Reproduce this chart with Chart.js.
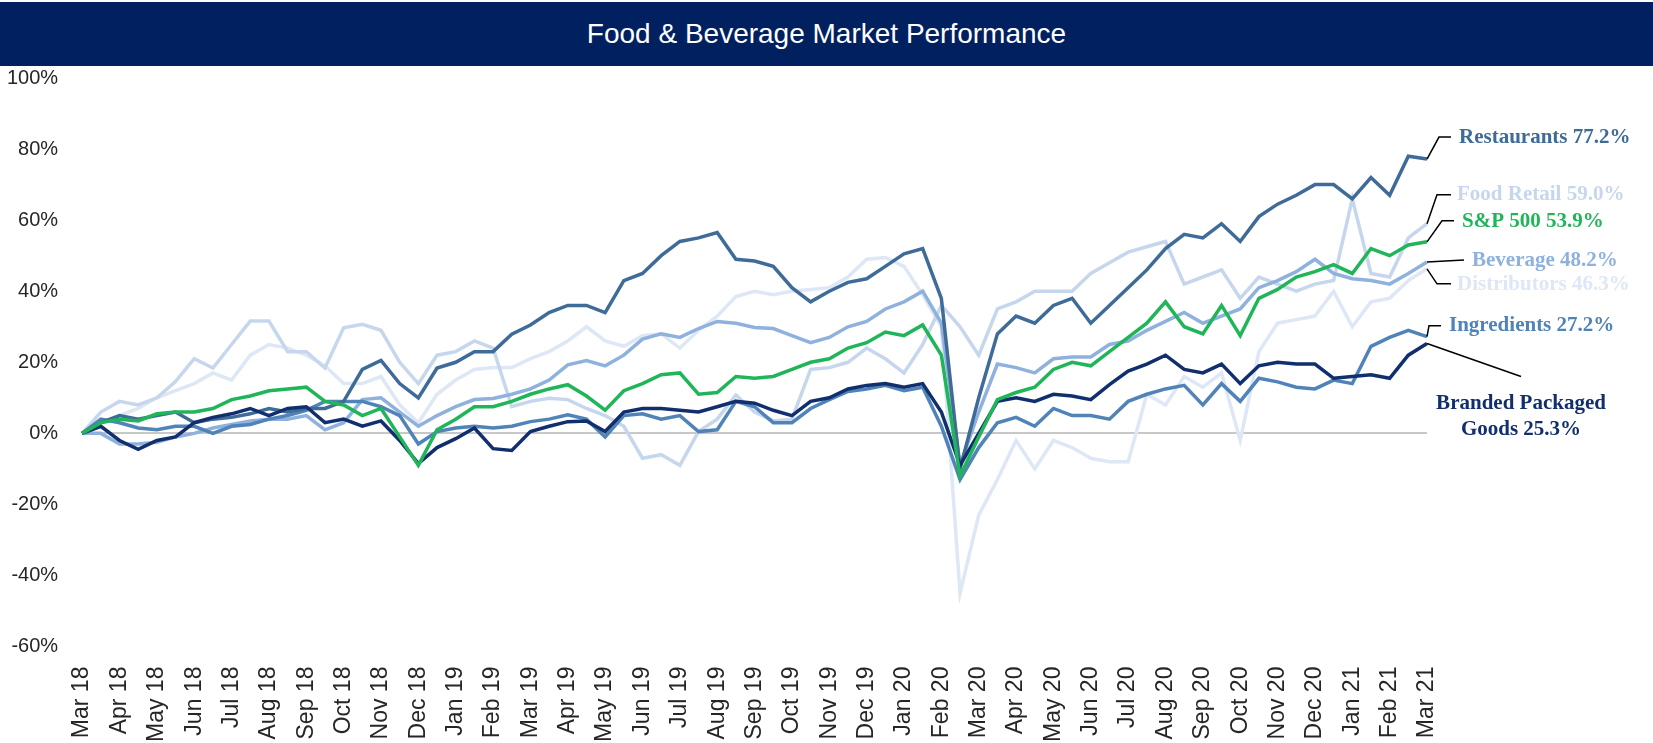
<!DOCTYPE html>
<html>
<head>
<meta charset="utf-8">
<script src="https://cdn.jsdelivr.net/npm/chart.js@4.4.1/dist/chart.umd.min.js"></script>
<style>
    body { margin: 0; background: #fff; }
    #head {
        margin-top: 2px;
        height: 64px;
        background: #002060;
        color: #fff;
        text-align: center;
        font: 28px "Liberation Sans", Arial, sans-serif;
        line-height: 64px;
    }
    #wrap { position: relative; width: 1653px; height: 677px; }
</style>
</head>
<body>
<div id="head">Food &amp; Beverage Market Performance</div>
<div id="wrap"><canvas id="perf"></canvas></div>
<script>
    // month ticks; each month gets one extra mid-month point
    const months = ['Mar 18', 'Apr 18', 'May 18', 'Jun 18', 'Jul 18', 'Aug 18', 'Sep 18', 'Oct 18',
        'Nov 18', 'Dec 18', 'Jan 19', 'Feb 19', 'Mar 19', 'Apr 19', 'May 19', 'Jun 19', 'Jul 19',
        'Aug 19', 'Sep 19', 'Oct 19', 'Nov 19', 'Dec 19', 'Jan 20', 'Feb 20', 'Mar 20', 'Apr 20',
        'May 20', 'Jun 20', 'Jul 20', 'Aug 20', 'Sep 20', 'Oct 20', 'Nov 20', 'Dec 20', 'Jan 21',
        'Feb 21', 'Mar 21'];

    const yTicks = [-60, -40, -20, 0, 20, 40, 60, 80, 100];

    // cumulative return, %
    const restaurants = [0, 3, 5, 4, 5, 6, 3, 4, 4.5, 5.5, 7, 6,
        7, 7, 9, 18, 20.5, 14, 10, 18.4, 20, 23, 23, 27.9,
        30.5, 34, 36, 36, 34, 43, 45, 50, 54, 55, 56.5, 49,
        48.5, 47, 41, 37, 40, 42.5, 43.5, 47, 50.5, 52, 38, -10,
        10, 28, 33, 31, 36, 38, 31, 36, 41, 46, 52, 56,
        55, 59, 54, 61, 64.5, 67, 70, 70, 66, 72, 67, 78, 77.2];

    const foodRetail = [0, 6, 9, 8, 10, 14.6, 21, 18.4, 25, 31.6, 31.6, 23,
        23, 18.4, 29.7, 30.7, 29, 20, 14, 22, 23, 26, 24, 7.5,
        9, 9.9, 9.5, 7, 5, 2, -7, -6, -9, 0.5, 4, 10.8,
        6, 3.5, 4, 18, 18.5, 20, 24, 21, 17, 25, 36, 30,
        22, 35, 37, 40, 40, 40, 45, 48, 51, 52.5, 54, 42,
        44, 46, 38, 44, 42, 40, 42, 43, 66, 45, 44, 55, 59];

    const sp500 = [0, 3, 4, 3.5, 5.5, 6, 6, 7, 9.5, 10.5, 12, 12.5,
        13, 9, 8, 5, 7, -1, -9, 1, 4, 7.5, 7.5, 9,
        11, 12.5, 13.7, 10.5, 6.5, 12, 14, 16.5, 17, 11, 11.5, 16,
        15.5, 16, 18, 20, 21, 24, 25.5, 28.5, 27.5, 30.5, 22, -12,
        -1, 9.5, 11.5, 13, 18, 20, 19, 23, 27, 31, 37, 30,
        28, 36, 27.5, 38, 40.5, 44, 45.5, 47.5, 45, 52, 50, 53, 53.9];

    const beverage = [0, 0, -3, -3, -2.5, -1, 0, 1.5, 2.5, 3.5, 4, 4,
        5, 1, 3, 9.5, 10, 6, 2, 5, 7.5, 9.5, 9.8, 11,
        12.5, 15, 19.3, 20.5, 19, 22, 26.5, 28, 27, 29.5, 31.5, 31,
        29.8, 29.5, 27.5, 25.5, 27, 30, 31.5, 35, 37, 40, 31, -9,
        6, 19.5, 18.5, 17, 21, 21.5, 21.5, 25, 26, 29, 31.5, 34,
        31, 33, 35, 41, 43, 45.5, 49, 45, 43.5, 43, 42, 45, 48.2];

    const distributors = [0, 3, 5, 7, 10, 12, 14, 17, 15, 22, 25, 24,
        22, 19, 14, 14, 16, 8, 3, 11, 15, 18, 18.5, 18.5,
        21, 23, 26, 30, 26, 24.5, 27.5, 28, 24, 29, 33, 38.5,
        40, 39, 40, 40.5, 41, 44, 49, 49.5, 47, 39, 30, -45,
        -23, -13, -2, -10, -2, -4, -7, -8, -8, 11, 8, 16,
        13, 17, -2, 23, 31, 32, 33, 40, 30, 37, 38, 43, 46.3];

    const ingredients = [0, 4, 3, 1.5, 1, 2, 2, 0, 2, 2.5, 4, 5,
        6.5, 9, 9, 9, 7.5, 5, -3, 0.5, 1.5, 2, 1.5, 2,
        3.3, 4, 5.2, 4, -1, 5, 5.5, 4, 5, 0.5, 1, 9,
        7.5, 3, 3, 7, 9.5, 11.8, 12.5, 13.5, 12, 13, 2, -13,
        -4, 3, 4.5, 2, 7, 5, 5, 4, 9, 11, 12.5, 13.5,
        8, 14, 9, 15.5, 14.5, 13, 12.5, 15, 14, 24.5, 27, 29, 27.2];

    const brandedGoods = [0, 2, -2, -4.5, -2, -1, 3, 4.5, 5.5, 7, 5, 7,
        7.5, 3, 4, 2, 3.5, -2, -8.5, -4, -1.5, 1.5, -4.3, -4.8,
        0.5, 2, 3.3, 3.5, 0.5, 6, 7, 7, 6.5, 6, 7.5, 9,
        8.5, 6.5, 5, 9, 10, 12.5, 13.5, 14, 13, 14, 6, -9,
        0, 9, 10, 9, 11, 10.5, 9.5, 13.7, 17.5, 19.5, 22, 18,
        17, 19.5, 14, 19, 20, 19.5, 19.5, 15.5, 16, 16.5, 15.5, 22, 25.3];

    const axisLabels = [];
    months.forEach((m, i) => {
        axisLabels.push(m);
        if (i < months.length - 1) axisLabels.push('');
    });

    const series = [
        { label: 'S&P 500', data: sp500, color: '#21B559',
            tag: ['S&P 500 53.9%'], path: [[15, -21], [27, -21]], at: [35, -20] },
        { label: 'Branded Packaged Goods', data: brandedGoods, color: '#112F6E',
            tag: ['Branded Packaged', 'Goods 25.3%'], path: [[94, 33]], at: [94, 60], center: true },
        { label: 'Restaurants', data: restaurants, color: '#3F6B98',
            tag: ['Restaurants 77.2%'], path: [[12, -22], [24, -22]], at: [32, -21] },
        { label: 'Ingredients', data: ingredients, color: '#5083B8',
            tag: ['Ingredients 27.2%'], path: [[2, -11], [14, -11]], at: [22, -11] },
        { label: 'Beverage', data: beverage, color: '#8EB1DE',
            tag: ['Beverage 48.2%'], path: [[37, -2]], at: [45, -1] },
        { label: 'Food Retail', data: foodRetail, color: '#C6D7ED',
            tag: ['Food Retail 59.0%'], path: [[10, -29], [24, -29]], at: [30, -29] },
        { label: 'Distributors', data: distributors, color: '#DDE7F5',
            tag: ['Distributors 46.3%'], path: [[10, 15], [24, 15]], at: [30, 16] }
    ];

    const endTags = {
        id: 'endTags',
        afterDatasetsDraw(chart) {
            const ctx = chart.ctx;
            ctx.save();
            series.forEach((s, i) => {
                const pt = chart.getDatasetMeta(i).data[s.data.length - 1];
                ctx.strokeStyle = '#000';
                ctx.lineWidth = 1.5;
                ctx.beginPath();
                ctx.moveTo(pt.x, pt.y);
                s.path.forEach(p => ctx.lineTo(pt.x + p[0], pt.y + p[1]));
                ctx.stroke();
                ctx.fillStyle = s.color;
                ctx.font = 'bold 21px "Liberation Serif", "Times New Roman", serif';
                ctx.textAlign = s.center ? 'center' : 'left';
                ctx.textBaseline = 'middle';
                s.tag.forEach((t, k) => {
                    ctx.fillText(t, pt.x + s.at[0], pt.y + s.at[1] + k * 26);
                });
            });
            ctx.restore();
        }
    };

    new Chart(document.getElementById('perf'), {
        type: 'line',
        data: {
            labels: axisLabels,
            datasets: series.map(s => ({
                label: s.label,
                data: s.data,
                borderColor: s.color,
                backgroundColor: s.color,
                borderWidth: 3.5,
                pointRadius: 0,
                tension: 0
            }))
        },
        options: {
            responsive: true,
            maintainAspectRatio: false,
            animation: false,
            layout: {
                autoPadding: false,
                padding: { left: -17, right: 226, top: 1, bottom: -19 }
            },
            plugins: {
                legend: { display: false },
                tooltip: { enabled: false }
            },
            scales: {
                x: {
                    grid: { display: false, drawTicks: false },
                    border: { display: false },
                    ticks: {
                        autoSkip: false,
                        minRotation: 90,
                        maxRotation: 90,
                        padding: 20,
                        color: '#262626',
                        font: { family: '"Liberation Sans", Arial, sans-serif', size: 23 }
                    }
                },
                y: {
                    min: -60,
                    max: 100,
                    afterBuildTicks(scale) {
                        scale.ticks = yTicks.map(v => ({ value: v }));
                    },
                    afterFit(scale) {
                        // label gap should not eat vertical room
                        scale.paddingTop = 12;
                        scale.paddingBottom = 12;
                    },
                    grid: {
                        drawTicks: false,
                        lineWidth: 2,
                        color: c => c.tick && c.tick.value === 0 ? '#C8C8C8' : 'transparent'
                    },
                    border: { display: false },
                    ticks: {
                        padding: 24,
                        color: '#262626',
                        font: { family: '"Liberation Sans", Arial, sans-serif', size: 20 },
                        callback: v => v + '%'
                    }
                }
            }
        },
        plugins: [endTags]
    });
</script>
</body>
</html>
